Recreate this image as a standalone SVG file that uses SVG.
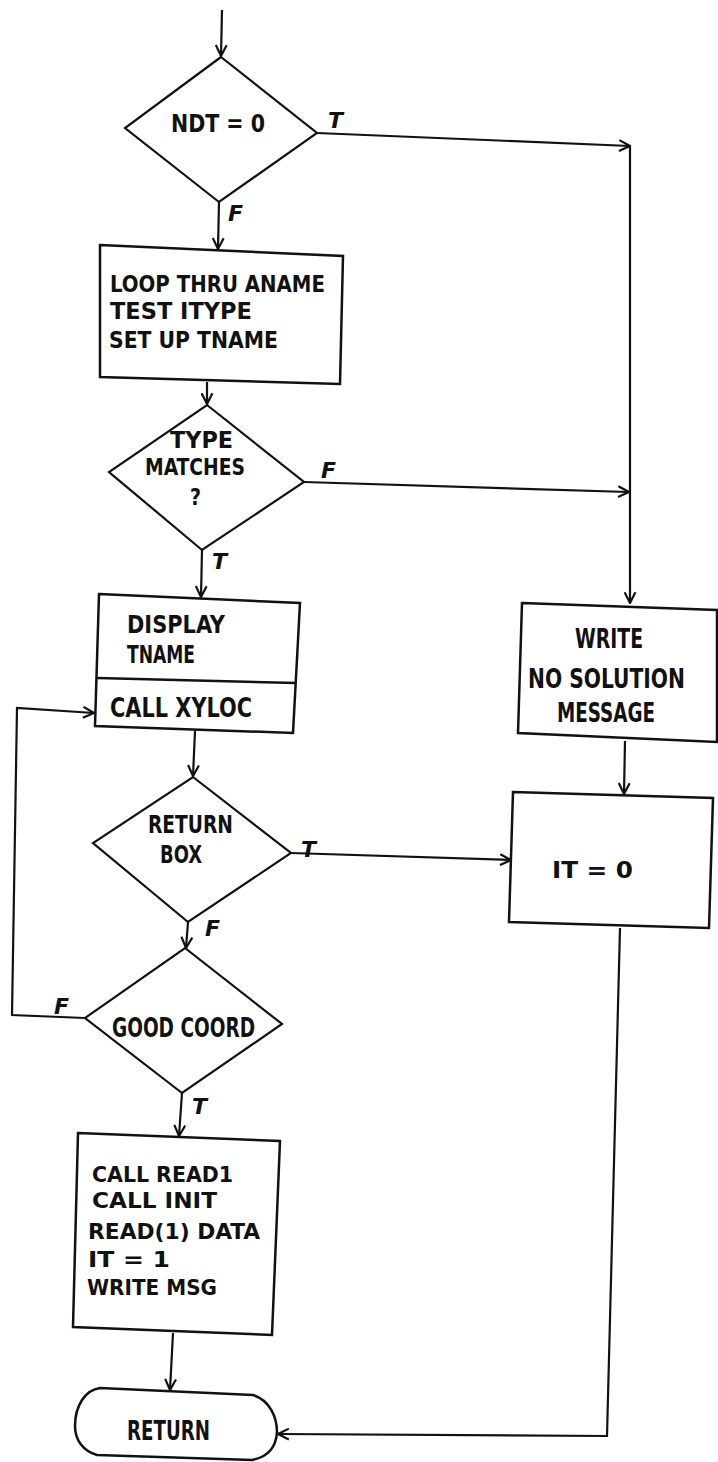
<svg xmlns="http://www.w3.org/2000/svg" width="718" height="1462" viewBox="0 0 718 1462">
<defs>
<marker id="arr" viewBox="0 0 12 12" refX="11" refY="6" markerWidth="13" markerHeight="13" markerUnits="userSpaceOnUse" orient="auto">
<path d="M1,1 L11,6 L1,11" fill="none" stroke="#111" stroke-width="2"/>
</marker>
<style>
.shape{fill:#fff;stroke:#111;stroke-width:2.5;stroke-linejoin:miter}
.dia{fill:#fff;stroke:#111;stroke-width:2.2}
.conn{fill:none;stroke:#111;stroke-width:2.2}
.t{font-family:"DejaVu Sans Condensed","DejaVu Sans",sans-serif;font-weight:bold;fill:#111;font-size:27px}
.m{font-size:23px}
.r{font-size:22px}
.s{font-size:25px}
.lab{font-family:"DejaVu Sans","Liberation Sans",sans-serif;font-style:italic;font-weight:bold;font-size:22px;fill:#111}
</style>
</defs>
<rect width="718" height="1462" fill="#fff"/>
<g id="connectors">
<path class="conn" d="M222,10 L221,56" marker-end="url(#arr)"/>
<path class="conn" d="M317,133 L630,146" marker-end="url(#arr)"/>
<path class="conn" d="M630,146 L630,603" marker-end="url(#arr)"/>
<path class="conn" d="M219,202 L218,249" marker-end="url(#arr)"/>
<path class="conn" d="M207,382 L207,404" marker-end="url(#arr)"/>
<path class="conn" d="M304,482 L629,492" marker-end="url(#arr)"/>
<path class="conn" d="M202,550 L201,597" marker-end="url(#arr)"/>
<path class="conn" d="M195,731 L193,776" marker-end="url(#arr)"/>
<path class="conn" d="M291,853 L511,860" marker-end="url(#arr)"/>
<path class="conn" d="M188,922 L186,948" marker-end="url(#arr)"/>
<path class="conn" d="M85,1018 L12,1015 L17,708 L94,713" marker-end="url(#arr)"/>
<path class="conn" d="M182,1093 L179,1136" marker-end="url(#arr)"/>
<path class="conn" d="M173,1333 L170,1390" marker-end="url(#arr)"/>
<path class="conn" d="M625,741 L624,794" marker-end="url(#arr)"/>
<path class="conn" d="M620,928 L607,1436 L278,1434" marker-end="url(#arr)"/>
<text class="lab" x="328" y="128">T</text>
<text class="lab" x="228" y="221">F</text>
<text class="lab" x="321" y="478">F</text>
<text class="lab" x="212" y="569">T</text>
<text class="lab" x="301" y="857">T</text>
<text class="lab" x="205" y="936">F</text>
<text class="lab" x="54" y="1014">F</text>
<text class="lab" x="192" y="1114">T</text>
</g>
<g id="ndt">
<polygon class="dia" points="221,57 317,133 219,202 125,128"/>
<text class="t s" x="171" y="132" textLength="94" lengthAdjust="spacingAndGlyphs">NDT = 0</text>
</g>
<g id="loop">
<polygon class="shape" points="100,245 343,256 340,384 100,377"/>
<text class="t m" x="110" y="292" textLength="215" lengthAdjust="spacingAndGlyphs">LOOP THRU ANAME</text>
<text class="t m" x="110" y="319" textLength="142" lengthAdjust="spacingAndGlyphs">TEST ITYPE</text>
<text class="t m" x="109" y="348" textLength="169" lengthAdjust="spacingAndGlyphs">SET UP TNAME</text>
</g>
<g id="typematches">
<polygon class="dia" points="207,405 304,482 202,550 109,472"/>
<text class="t m" x="170" y="448" textLength="63" lengthAdjust="spacingAndGlyphs">TYPE</text>
<text class="t m" x="145" y="475" textLength="100" lengthAdjust="spacingAndGlyphs">MATCHES</text>
<text class="t m" x="190" y="505" textLength="11" lengthAdjust="spacingAndGlyphs">?</text>
</g>
<g id="display">
<polygon class="shape" points="99,594 300,603 293,733 95,726"/>
<line class="shape" x1="97" y1="678" x2="296" y2="683"/>
<text class="t s" x="127" y="633" textLength="98" lengthAdjust="spacingAndGlyphs">DISPLAY</text>
<text class="t s" x="127" y="663" textLength="68" lengthAdjust="spacingAndGlyphs">TNAME</text>
<text class="t" x="110" y="717" textLength="142" lengthAdjust="spacingAndGlyphs">CALL XYLOC</text>
</g>
<g id="write">
<polygon class="shape" points="522,603 717,610 717,742 518,733"/>
<text class="t" x="575" y="648" textLength="68" lengthAdjust="spacingAndGlyphs">WRITE</text>
<text class="t" x="528" y="688" textLength="157" lengthAdjust="spacingAndGlyphs">NO SOLUTION</text>
<text class="t" x="557" y="722" textLength="98" lengthAdjust="spacingAndGlyphs">MESSAGE</text>
</g>
<g id="returnbox">
<polygon class="dia" points="193,777 291,853 188,922 93,843"/>
<text class="t s" x="148" y="833" textLength="85" lengthAdjust="spacingAndGlyphs">RETURN</text>
<text class="t s" x="160" y="863" textLength="42" lengthAdjust="spacingAndGlyphs">BOX</text>
</g>
<g id="it0">
<polygon class="shape" points="513,792 713,798 709,928 509,922"/>
<text class="t" x="552" y="878" textLength="81" lengthAdjust="spacingAndGlyphs" style="font-size:23px">IT = 0</text>
</g>
<g id="goodcoord">
<polygon class="dia" points="185,948 282,1024 182,1093 85,1018"/>
<text class="t" x="112" y="1037" textLength="143" lengthAdjust="spacingAndGlyphs">GOOD COORD</text>
</g>
<g id="read">
<polygon class="shape" points="78,1133 280,1141 272,1335 73,1327"/>
<text class="t r" x="92" y="1182" textLength="141" lengthAdjust="spacingAndGlyphs">CALL READ1</text>
<text class="t r" x="92" y="1208" textLength="125" lengthAdjust="spacingAndGlyphs">CALL INIT</text>
<text class="t r" x="88" y="1239" textLength="172" lengthAdjust="spacingAndGlyphs">READ(1) DATA</text>
<text class="t r" x="88" y="1267" textLength="82" lengthAdjust="spacingAndGlyphs">IT = 1</text>
<text class="t r" x="87" y="1295" textLength="130" lengthAdjust="spacingAndGlyphs">WRITE MSG</text>
</g>
<g id="return">
<path class="shape" d="M100,1388 L253,1395 C270,1400 277,1418 277,1432 C276,1448 268,1457 252,1460 L97,1455 C83,1451 75,1440 75,1426 C75,1406 85,1390 100,1388 Z"/>
<text class="t" x="127" y="1440" textLength="83" lengthAdjust="spacingAndGlyphs">RETURN</text>
</g>
</svg>
